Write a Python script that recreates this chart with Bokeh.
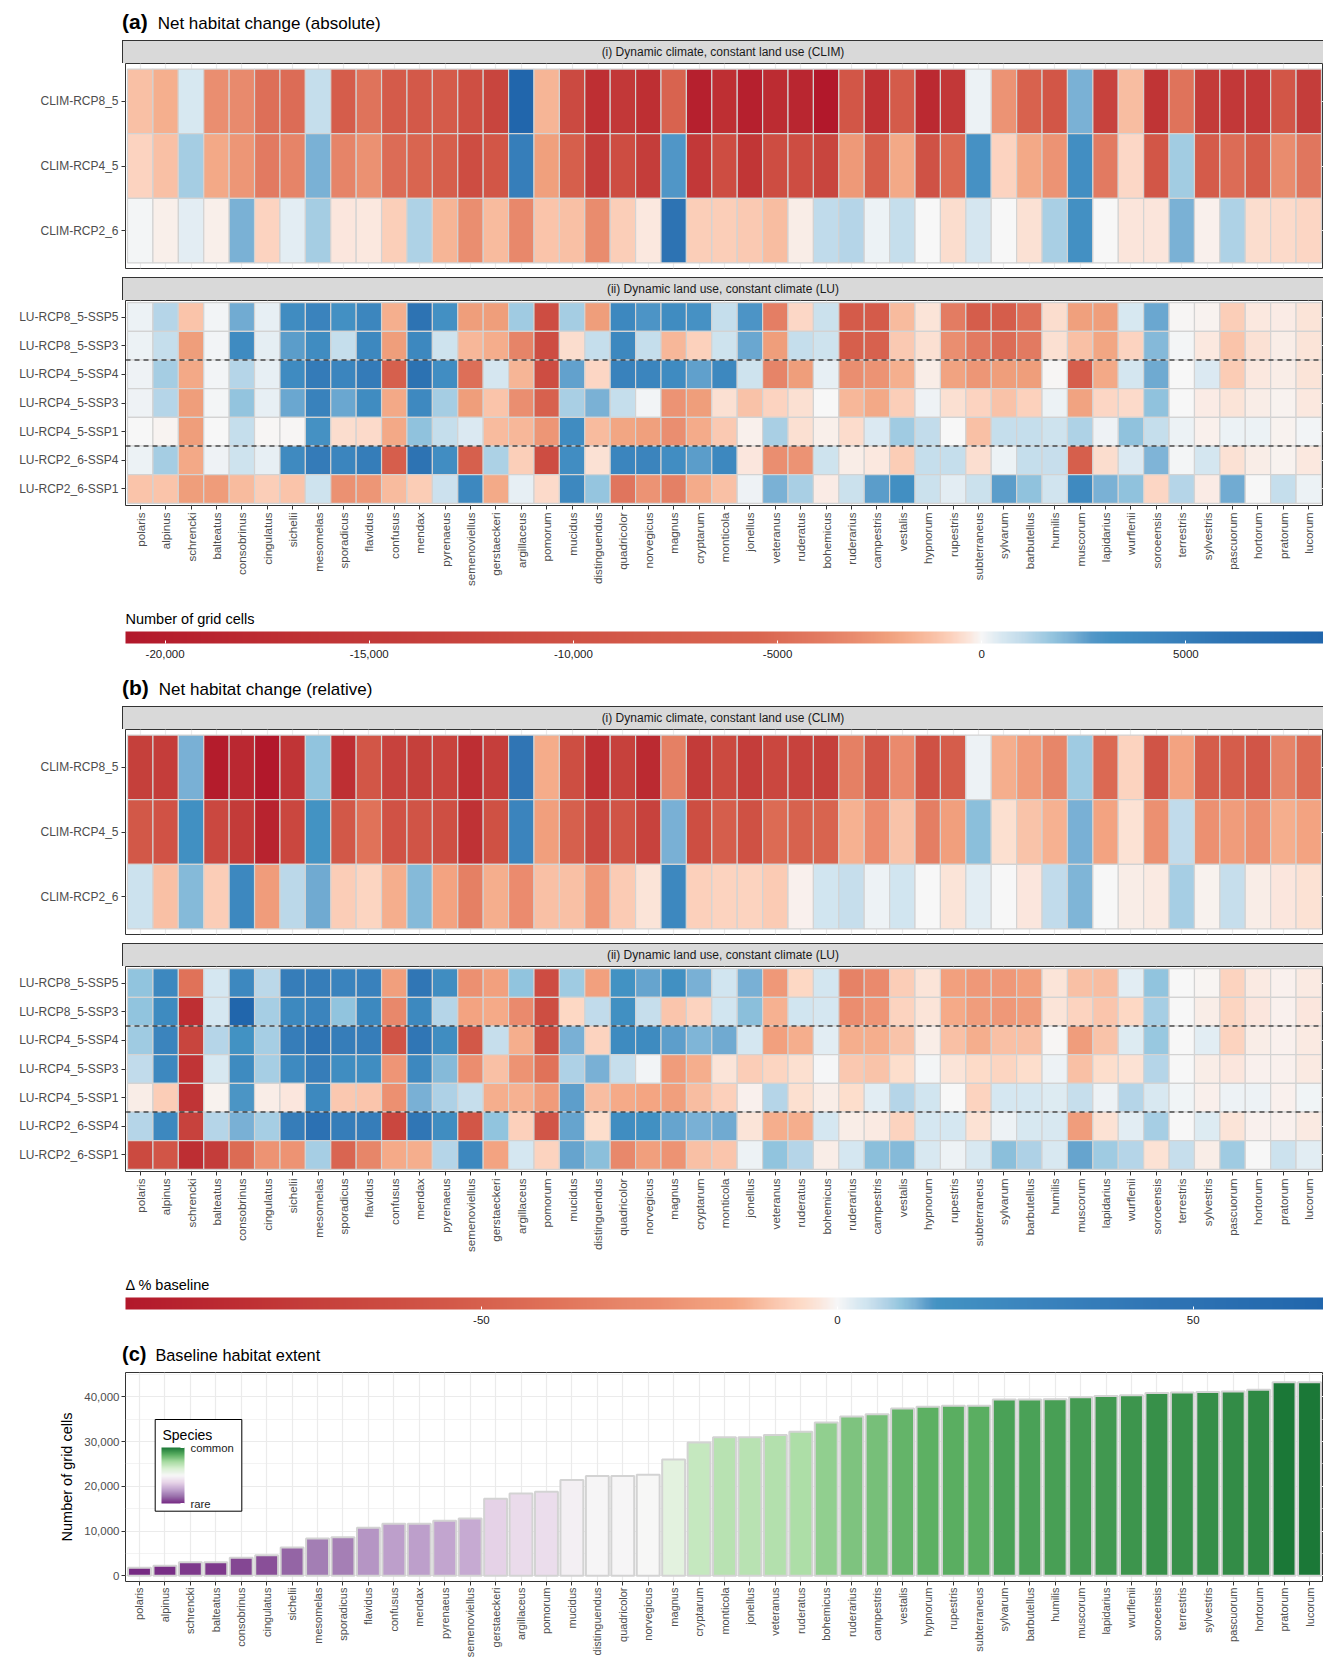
import math
import numpy as np
from bokeh.plotting import figure
from bokeh.models import (ColumnDataSource, FactorRange, LinearColorMapper, ColorBar, FixedTicker,
                          Span, Div, Range1d, SingleIntervalTicker, NumeralTickFormatter,
                          BoxAnnotation, Label)
from bokeh.layouts import column
from bokeh.transform import transform
from bokeh.embed import file_html
from bokeh.resources import INLINE

FONT = "Liberation Sans"

species = ["polaris", "alpinus", "schrencki", "balteatus", "consobrinus", "cingulatus", "sichelii",
           "mesomelas", "sporadicus", "flavidus", "confusus", "mendax", "pyrenaeus", "semenoviellus",
           "gerstaeckeri", "argillaceus", "pomorum", "mucidus", "distinguendus", "quadricolor",
           "norvegicus", "magnus", "cryptarum", "monticola", "jonellus", "veteranus", "ruderatus",
           "bohemicus", "ruderarius", "campestris", "vestalis", "hypnorum", "rupestris", "subterraneus",
           "sylvarum", "barbutellus", "humilis", "muscorum", "lapidarius", "wurflenii", "soroeensis",
           "terrestris", "sylvestris", "pascuorum", "hortorum", "pratorum", "lucorum"]

clim_scenarios = ["CLIM-RCP8_5", "CLIM-RCP4_5", "CLIM-RCP2_6"]
lu_scenarios = ["LU-RCP8_5-SSP5", "LU-RCP8_5-SSP3", "LU-RCP4_5-SSP4", "LU-RCP4_5-SSP3",
                "LU-RCP4_5-SSP1", "LU-RCP2_6-SSP4", "LU-RCP2_6-SSP1"]
lu_dividers_below = ["LU-RCP4_5-SSP4", "LU-RCP2_6-SSP4"]

# ---------------- (a) absolute net habitat change (number of grid cells) ----------------
abs_clim_rcp85 = [-1200, -1800, 500, -3000, -3200, -4800, -5000, 900, -7500, -4500, -8000, -8500, -8000,
                  -10500, -12500, 8370, -1600, -11500, -17000, -15000, -17000, -6000, -19500, -17000,
                  -19500, -17500, -18500, -20970, -9000, -16500, -8000, -18000, -15000, 150, -2800, -6200,
                  -9000, 2200, -13000, -1300, -16000, -4500, -14500, -15000, -15000, -9000, -14000]
abs_clim_rcp45 = [-700, -1200, 1450, -2000, -2700, -4000, -3500, 2200, -3500, -2900, -5000, -5500, -7000,
                  -11000, -9000, 5000, -2300, -7000, -14000, -11000, -14000, 2800, -15000, -11000, -15500,
                  -11000, -11000, -12500, -2600, -7000, -2000, -10000, -5200, 3100, -700, -2000, -2800, 3400,
                  -4000, -600, -9000, 1500, -8000, -5000, -7500, -3100, -4300]
abs_clim_rcp26 = [50, -150, 300, -150, 2200, -700, 300, 1450, -300, -280, -800, 1300, -1600, -3000, -1400,
                  -3300, -1100, -1200, -3100, -850, -280, 6000, -850, -850, -950, -1300, -180, 1000, 1200,
                  150, 900, 0, -500, 550, 0, -400, 1400, 3200, 0, -330, -330, 2200, -120, 1300, -500, -550, -650]
abs_lu_85_ssp5 = [150, 1200, -1100, 80, 2300, 250, 3600, 4500, 3200, 4200, -1800, 6000, 3200, -2400, -2400,
                  1550, -11000, 1450, -2400, 4000, 2900, 3600, 3100, 900, 2900, -3800, -600, 800, -8000, -8000,
                  -1400, -350, -3900, -7500, -7500, -4700, -500, -2300, -2400, 500, 2400, -30, -100, -850,
                  -280, -220, -350]
abs_lu_85_ssp3 = [150, 900, -2400, 80, 3700, 280, 2600, 3600, 900, 4000, -2400, 4000, 700, -1500, -1850,
                  -3500, -11000, -500, 900, 4000, 900, -1500, -750, 700, 2400, -2400, 900, 700, -7000, -6500,
                  -950, -450, -3000, -4000, -5000, -4000, -450, -1200, -2100, -700, 2000, 50, -280, -1100,
                  -400, -180, -350]
abs_lu_45_ssp4 = [120, 1450, -2000, 80, 1200, 260, 3700, 5200, 4300, 5200, -6800, 6200, 3500, -4800, 550,
                  -1600, -11000, 2500, -650, 4600, 4300, 3700, 2550, 4000, 700, -3500, -2400, 250, -3000,
                  -2800, -1800, -170, -2200, -2700, -2400, -2400, -30, -7200, -2000, 600, 2350, 0, 450, -900,
                  -280, -190, -350]
abs_lu_45_ssp3 = [120, 1200, -2400, 60, 1750, 260, 2400, 4600, 2400, 3600, -2000, 3900, 1450, -2400, -1100,
                  -3000, -6500, 1400, 2200, 900, 80, -2800, -2400, -450, -1150, -700, -450, -10, -1500, -2000,
                  -850, 130, -450, -700, -1150, -750, 150, -2200, -650, -550, 1800, 0, -200, -350, -170,
                  -110, -280]
abs_lu_45_ssp1 = [0, -80, -2400, 0, 900, -40, -50, 3150, -500, -550, -2000, 1800, 900, 450, -1400, -1500,
                  -2700, 3600, -1400, -2100, -2300, -3000, -1900, -950, -130, 1400, -450, -150, -530, 450,
                  1550, 950, 0, -1200, 900, 900, 700, 1300, 130, 1800, 900, 150, -130, 150, 150, -110, 70]
abs_lu_26_ssp4 = [150, 1450, -2000, 120, 700, 260, 3800, 5200, 4300, 5100, -7200, 6000, 3500, -6800, 1350,
                  -800, -11000, 3500, -420, 4300, 4400, 3500, 2600, 4000, -300, -3000, -2800, 700, -170, -270,
                  -870, 900, 900, -480, 170, 900, 870, -7000, -500, 450, 2100, 40, 600, -420, -170, -110, -280]
abs_lu_26_ssp1 = [-1100, -1100, -2400, -2450, -1400, -830, -1100, 700, -2900, -2700, -1400, -870, 750, 4000,
                  -1950, 260, -550, 4000, 1700, -4400, -2800, -3700, -1900, -1200, 120, 2200, 1400, -200, 800,
                  2600, 3300, 800, 300, 800, 2600, 1800, 650, 3800, 2200, 1800, -650, 1200, -200, 2300, 0,
                  900, 150]

# ---------------- (b) relative net habitat change (% of baseline) ----------------
rel_clim_rcp85 = [-73, -75, 11, -97, -88, -100, -80, 9, -83, -56, -71, -73, -70, -84, -74, 45, -13.5, -62,
                  -83, -72, -87, -33, -76, -65, -75, -67, -71, -73, -33, -57, -27, -60, -52, 1, -13, -20, -30,
                  8, -45, -6.5, -58, -16, -52, -52, -57, -31, -44]
rel_clim_rcp45 = [-55, -59, 17, -66, -76, -92, -67, 14, -55, -40, -59, -58, -61, -81, -60, 27, -18, -50, -66,
                  -58, -71, 11, -62, -51, -60, -44, -49, -48, -12.5, -26, -9.5, -34, -18, 9.5, -4, -9.5,
                  -12.5, 11, -16, -3.5, -24, 5.5, -24, -19.5, -24, -13, -16]
rel_clim_rcp26 = [4.5, -10, 10, -7.5, 24, -19.5, 6, 11.5, -7.5, -6, -13, 10, -16, -33, -13, -26, -10, -10,
                  -21, -8, -3, 24, -7, -6.5, -6.5, -8, -1, 4, 5, 1, 4, 0, -3, 2, 0, -2.5, 5.5, 10.5, 0, -1.5,
                  -2, 7.5, -0.8, 5, -1.5, -2.5, -3.5]
rel_lu_85_ssp5 = [9, 24, -40, 3.5, 24, 6, 35, 35, 28, 30, -18, 44, 19, -24, -17.5, 9, -63, 8, -17.5, 15, 12,
                  17, 11, 4, 11, -21, -5.5, 3.7, -32, -27, -7.5, -3, -17.5, -21, -21, -17.5, -3, -10, -10.5,
                  2, 9, 0, -0.5, -6.5, -2, -1, -2]
rel_lu_85_ssp3 = [9, 21, -83, 3.5, 68.3, 7.5, 23, 27, 9, 23, -29, 23, 6.5, -16, -14, -27, -62, -5.5, 5.5, 17,
                  5, -9, -6.5, 4, 9.5, -12.5, 4, 3.5, -25, -22, -6.5, -3, -14, -19, -21, -19, -3, -6.5, -9,
                  -5.5, 7.5, 0, -1.5, -6, -2.5, -1, -2.5]
rel_lu_45_ssp4 = [8, 27, -69, 6.5, 15, 7.5, 35, 48, 35, 35, -58, 44, 19, -55, 5, -13, -62, 11, -6.5, 21, 21,
                  12.5, 10.5, 11.5, 3.5, -17.5, -13, 2, -13, -13, -9.5, -1.5, -10, -13, -10, -10, -0.3, -19,
                  -9.5, 2.5, 8.5, 0, 2, -6.5, -1.5, -1, -2]
rel_lu_45_ssp3 = [5.5, 24, -80, 3.2, 21, 7.5, 22, 35, 19, 19, -22, 24, 10, -25, -10, -23, -40, 7, 11, 5, 0.5,
                  -19.5, -13, -3, -7.5, -6, -4, 0.2, -8.5, -9.5, -4.5, 0.3, -3, -5, -6, -4.5, 1, -10, -4.5,
                  -3.5, 6.5, 0, -1.5, -2.5, -1, -1, -2]
rel_lu_45_ssp1 = [-1.5, -7.5, -80, -0.8, 13.5, -1.5, -2.5, 23, -8.5, -9, -24, 11, 7, 5, -13, -12.5, -20, 12.5,
                  -10.5, -14, -15, -18, -10.5, -7, -1, 6.5, -4, -1.5, -4.5, 2, 6.5, 4, 0, -6.5, 3.5, 3.5, 2.5,
                  5, 1, 6.5, 3, 0.7, -1.2, 1, 1, -1, 0.7]
rel_lu_26_ssp4 = [6.5, 24, -71, 6.5, 11, 7.5, 35, 50, 35, 35, -67, 44, 19, -56, 9, -7, -57, 12, -4.5, 19, 17,
                  12, 11, 11.5, -3, -13, -13, 3.5, -1.5, -2, -6.5, 3.5, 3.5, -3.5, 1, 3.2, 3, -19, -3.5, 2,
                  7.5, 0, 2.5, -3, -1, -1, -2]
rel_lu_26_ssp1 = [-65, -57, -84, -75, -44, -23, -23, 7.5, -47, -30, -14, -13, 6.5, 24, -16, 3.5, -6.5, 12,
                  9.5, -29, -18, -23, -10, -9, 1, 9, 6.5, -1.5, 3.5, 9.5, 10, 3, 1, 3, 9.5, 7, 3, 12, 8, 6.5,
                  -3.5, 5, -1.5, 8, 0, 4.5, 2]

# ---------------- (c) baseline habitat extent (number of grid cells) ----------------
baseline = [1800, 2200, 3000, 3000, 4000, 4600, 6300, 8300, 8600, 10700, 11600, 11600, 12300, 12800, 17200,
            18400, 18800, 21400, 22300, 22300, 22600, 26000, 29800, 31000, 31000, 31500, 32200, 34300, 35600,
            36100, 37400, 37800, 38000, 38000, 39400, 39400, 39500, 39900, 40200, 40400, 40900, 41000, 41100,
            41200, 41600, 43300, 43300]

abs_ticks = [-20000, -15000, -10000, -5000, 0, 5000]
abs_tick_labels = ["-20,000", "-15,000", "-10,000", "-5000", "0", "5000"]
rel_ticks = [-50, 0, 50]
rel_tick_labels = ["-50", "0", "50"]

abs_clim = dict(zip(clim_scenarios, [abs_clim_rcp85, abs_clim_rcp45, abs_clim_rcp26]))
abs_lu = dict(zip(lu_scenarios, [abs_lu_85_ssp5, abs_lu_85_ssp3, abs_lu_45_ssp4, abs_lu_45_ssp3,
                                 abs_lu_45_ssp1, abs_lu_26_ssp4, abs_lu_26_ssp1]))
rel_clim = dict(zip(clim_scenarios, [rel_clim_rcp85, rel_clim_rcp45, rel_clim_rcp26]))
rel_lu = dict(zip(lu_scenarios, [rel_lu_85_ssp5, rel_lu_85_ssp3, rel_lu_45_ssp4, rel_lu_45_ssp3,
                                 rel_lu_45_ssp1, rel_lu_26_ssp4, rel_lu_26_ssp1]))

# ---------------- colour scales (styling) ----------------
abs_anchor_vals = [-20970, -17000, -14000, -11000, -8000, -5500, -4000, -3000, -2300, -1800, -1200, -700,
                   -300, 0, 150, 500, 900, 1300, 1700, 2200, 2700, 3200, 4500, 6000, 8370]
abs_anchor_cols = ["#b2182b", "#be2f33", "#c43d3a", "#cd4d42", "#d45b4a", "#d96550", "#e27a61", "#ea8e70",
                   "#f0a07d", "#f5ae8d", "#f9c0a5", "#fcd3bf", "#fbe6dc", "#f7f7f7", "#edf2f5", "#d8e8f1",
                   "#c6deec", "#afd2e6", "#96c6df", "#7ab1d5", "#5498c8", "#4390c3", "#3a83bd", "#2d73b3",
                   "#2166ac"]
rel_anchor_vals = [-100, -83, -75, -62.5, -53, -50, -40, -29, -25.5, -19.5, -15, -13, -10, -6.5, -5, -2.5,
                   0, 1, 3, 4, 5, 7, 9, 11, 13, 14, 28, 46, 68.3]
rel_anchor_cols = ["#b2182b", "#be2f33", "#c43d3a", "#cd4d42", "#d45b4a", "#d6604d", "#e07259", "#e8886b",
                   "#eb8c6e", "#f09c7b", "#f4a582", "#f5ae8d", "#f9c0a5", "#fcd3bf", "#fddbc7", "#fbe6dc",
                   "#f7f7f7", "#edf2f5", "#d8e8f1", "#d1e5f0", "#c6deec", "#afd2e6", "#92c5de", "#7ab1d5",
                   "#5498c8", "#4393c3", "#3a83bd", "#2f74b4", "#2166ac"]
prgn_cols = ["#762a83", "#9970ab", "#c2a5cf", "#e7d4e8", "#f7f7f7", "#d9f0d3", "#a6dba0", "#5aae61", "#1b7837"]


def make_palette(vals, cols, low, high, n=1024):
    rgb = np.array([[int(c[i:i + 2], 16) for i in (1, 3, 5)] for c in cols], dtype=float)
    xs = np.linspace(low, high, n)
    out = []
    for x in xs:
        r, g, b = (np.interp(x, vals, rgb[:, k]) for k in range(3))
        out.append("#%02x%02x%02x" % (int(round(r)), int(round(g)), int(round(b))))
    return out


all_abs = [v for d in (abs_clim, abs_lu) for row in d.values() for v in row]
all_rel = [v for d in (rel_clim, rel_lu) for row in d.values() for v in row]
abs_low, abs_high = min(all_abs), max(all_abs)
rel_low, rel_high = min(all_rel), max(all_rel)
abs_mapper = LinearColorMapper(palette=make_palette(abs_anchor_vals, abs_anchor_cols, abs_low, abs_high),
                               low=abs_low, high=abs_high)
rel_mapper = LinearColorMapper(palette=make_palette(rel_anchor_vals, rel_anchor_cols, rel_low, rel_high),
                               low=rel_low, high=rel_high)
b_low, b_high = min(baseline), max(baseline)
prgn_mapper = LinearColorMapper(
    palette=make_palette(list(np.linspace(b_low, b_high, len(prgn_cols))), prgn_cols, b_low, b_high, 256),
    low=b_low, high=b_high)

FULL_W = 1323
LEFT = 122
FRAME_W = FULL_W - LEFT
HEAT_H = 205


def title_div(letter, text, size=17, bsize=21, gap=10, pad=12):
    html = ('<div style="font-family:\'Liberation Sans\',Arial,sans-serif;color:#000;white-space:nowrap;'
            f'font-size:{size}px;line-height:20px;padding-top:{pad}px;">'
            f'<span style="font-weight:bold;font-size:{bsize}px;">({letter})</span>'
            f'<span style="margin-left:{gap}px;">{text}</span></div>')
    return Div(text=html, width=FRAME_W, height=40, margin=(0, 0, 0, LEFT))


def strip_div(text):
    html = (f'<div style="box-sizing:border-box;width:{FRAME_W}px;height:23px;background:#d9d9d9;'
            'border-top:1px solid #333333;border-left:1px solid #333333;text-align:center;'
            'font-family:\'Liberation Sans\',Arial,sans-serif;font-size:12px;line-height:22px;'
            f'color:#1a1a1a;white-space:nowrap;">{text}</div>')
    return Div(text=html, width=FRAME_W, height=23, margin=(0, 0, 0, LEFT))


def heat_source(scen_dict):
    xs, ys, vs = [], [], []
    for scen, row in scen_dict.items():
        for sp, v in zip(species, row):
            xs.append(sp)
            ys.append(scen)
            vs.append(v)
    return ColumnDataSource(dict(species=xs, scenario=ys, value=vs))


def style_axis(ax, size="12px"):
    ax.major_label_text_font = FONT
    ax.major_label_text_font_size = size
    ax.major_label_text_color = "#4d4d4d"
    ax.major_tick_line_color = "#333333"
    ax.major_tick_out = 4
    ax.major_tick_in = 0
    ax.minor_tick_line_color = None
    ax.axis_line_color = None


def heat_fig(scen_list, scen_dict, mapper, ypad, show_x, bottom_border, dividers=()):
    yf = list(reversed(scen_list))
    p = figure(x_range=FactorRange(factors=species, range_padding=0.08, range_padding_units="absolute"),
               y_range=FactorRange(factors=yf, range_padding=ypad, range_padding_units="absolute"),
               width=FULL_W, height=HEAT_H + bottom_border,
               min_border_left=LEFT, min_border_right=0, min_border_top=0, min_border_bottom=bottom_border,
               x_axis_location="below" if show_x else None,
               toolbar_location=None, output_backend="svg",
               background_fill_color="white", border_fill_color="white")
    p.outline_line_color = "#333333"
    p.outline_line_width = 1
    p.grid.grid_line_color = "#ebebeb"
    p.grid.grid_line_width = 1.2
    p.rect(x="species", y="scenario", width=1, height=1, source=heat_source(scen_dict),
           fill_color=transform("value", mapper), line_color="#d3d3d3", line_width=1.2)
    for name in dividers:
        p.add_layout(Span(location=yf.index(name) + 1, dimension="width", line_color="black",
                          line_width=1.2, line_dash="5 4"))
    style_axis(p.yaxis[0], "12px")
    p.yaxis.major_label_standoff = 3
    if show_x:
        style_axis(p.xaxis[0], "11.6px")
        p.xaxis.major_label_orientation = math.pi / 2
        p.xaxis.major_label_standoff = 3
    return p


def cbar_fig(mapper, title, ticks, labels, top=2):
    p = figure(width=FULL_W, height=65, min_border_left=125, min_border_right=0, min_border_top=top,
               min_border_bottom=0, x_axis_location=None, y_axis_location=None,
               toolbar_location=None, output_backend="svg", outline_line_color=None)
    p.grid.visible = False
    cb = ColorBar(color_mapper=mapper, orientation="horizontal", location="top_left",
                  width=FULL_W - 125, height=12, margin=0, padding=0,
                  title=title, title_standoff=10, title_text_font=FONT, title_text_font_size="14.5px",
                  title_text_font_style="normal", title_text_color="black",
                  ticker=FixedTicker(ticks=ticks), major_label_overrides=dict(zip(ticks, labels)),
                  major_label_text_font=FONT, major_label_text_font_size="11.5px",
                  major_label_text_color="#1a1a1a", label_standoff=6,
                  major_tick_line_color="white", major_tick_in=3, major_tick_out=0,
                  minor_tick_line_color=None, bar_line_color=None, border_line_color=None,
                  background_fill_color=None)
    p.add_layout(cb, "center")
    return p


def panel(letter, title, clim_d, lu_d, mapper, cb_title, ticks, labels):
    return [
        title_div(letter, title),
        strip_div("(i) Dynamic climate, constant land use (CLIM)"),
        heat_fig(clim_scenarios, clim_d, mapper, 0.087, False, 9),
        strip_div("(ii) Dynamic land use, constant climate (LU)"),
        heat_fig(lu_scenarios, lu_d, mapper, 0.077, True, 96, lu_dividers_below),
        cbar_fig(mapper, cb_title, ticks, labels),
    ]


items = []
items += panel("a", "Net habitat change (absolute)", abs_clim, abs_lu, abs_mapper,
               "Number of grid cells", abs_ticks, abs_tick_labels)
items += panel("b", "Net habitat change (relative)", rel_clim, rel_lu, rel_mapper,
               "\u0394 % baseline", rel_ticks, rel_tick_labels)

# ---------------- (c) bar chart ----------------
C_LEFT = 123
C_H = 288
C_BOTTOM = 79
C_FRAME_H = C_H - C_BOTTOM
y_top = 1.05 * max(baseline)
y_bottom = -0.03 * max(baseline)
pc = figure(x_range=FactorRange(factors=species, range_padding=0.05, range_padding_units="absolute"),
            y_range=Range1d(y_bottom, y_top),
            width=FULL_W, height=C_H,
            min_border_left=C_LEFT, min_border_right=0, min_border_top=0, min_border_bottom=C_BOTTOM,
            toolbar_location=None, output_backend="svg",
            background_fill_color="white", border_fill_color="white")
pc.outline_line_color = "#333333"
pc.outline_line_width = 1
src_c = ColumnDataSource(dict(species=species, baseline=baseline))
pc.grid.grid_line_color = "#ebebeb"
pc.grid.grid_line_width = 1.2
pc.ygrid.minor_grid_line_color = "#ebebeb"
pc.ygrid.minor_grid_line_width = 0.6
pc.vbar(x="species", top="baseline", bottom=0, width=0.9, source=src_c,
        fill_color=transform("baseline", prgn_mapper), line_color="#d3d3d3", line_width=2)
pc.yaxis.ticker = SingleIntervalTicker(interval=10000, num_minor_ticks=2)
pc.yaxis.formatter = NumeralTickFormatter(format="0,0")
style_axis(pc.yaxis[0], "11.5px")
style_axis(pc.xaxis[0], "11px")
pc.yaxis.major_label_standoff = 2
pc.xaxis.major_label_orientation = math.pi / 2
pc.xaxis.major_label_standoff = 2
pc.yaxis.axis_label = "Number of grid cells"
pc.yaxis.axis_label_text_font = FONT
pc.yaxis.axis_label_text_font_size = "14.5px"
pc.yaxis.axis_label_text_font_style = "normal"
pc.yaxis.axis_label_text_color = "black"
pc.yaxis.axis_label_standoff = 6

# legend box ("Species", rare -> common), positioned relative to the plot frame
legend_box = BoxAnnotation(left=29.7, right=116.3, bottom=C_FRAME_H - 138.7, top=C_FRAME_H - 47,
                           left_units="screen", right_units="screen", top_units="screen",
                           bottom_units="screen", fill_color="white", fill_alpha=1.0,
                           line_color="black", line_width=1, line_alpha=1.0)
pc.add_layout(legend_box)
legend_cb = ColorBar(color_mapper=prgn_mapper, orientation="vertical",
                     location=(36, C_FRAME_H - 131), width=23, height=56, margin=0, padding=0,
                     ticker=FixedTicker(ticks=[b_low, b_high]),
                     major_label_overrides={b_low: "rare", b_high: "common"},
                     major_label_text_font=FONT, major_label_text_font_size="11.3px",
                     major_label_text_color="#1a1a1a", label_standoff=6,
                     major_tick_line_color="white", major_tick_in=4, major_tick_out=0,
                     minor_tick_line_color=None, bar_line_color=None,
                     border_line_color=None, background_fill_color=None)
pc.add_layout(legend_cb, "center")
pc.add_layout(Label(x=37, y=C_FRAME_H - 62, x_units="screen", y_units="screen", text="Species",
                    text_font=FONT, text_font_size="14px", text_color="black",
                    text_baseline="alphabetic", text_align="left"))

items += [title_div("c", "Baseline habitat extent", size=16.3, bsize=20, gap=9, pad=12), pc]

root = column(*items, spacing=0)
open("out.html", "w").write(file_html(root, INLINE))
